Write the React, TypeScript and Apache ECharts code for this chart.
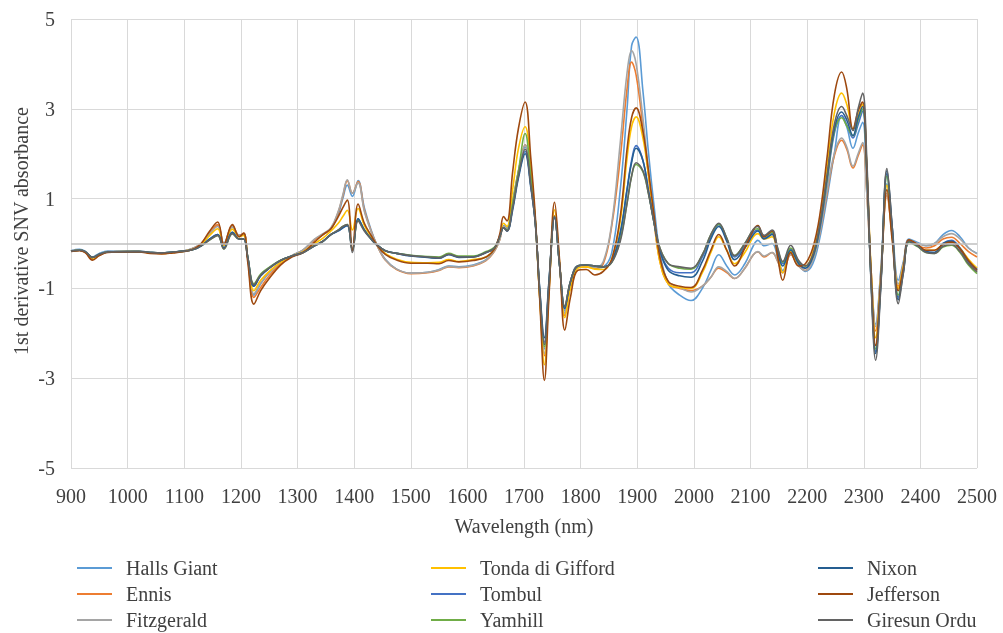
import React, { useEffect, useRef } from "react";
import * as echarts from "echarts";

const wavelengths = [
  900, 915, 925, 938, 950, 965, 1000, 1020, 1040, 1060,
  1080, 1100, 1117, 1130, 1145, 1159, 1170, 1185, 1197, 1205,
  1212, 1223, 1235, 1250, 1270, 1290, 1310, 1330, 1345, 1359,
  1372, 1380, 1388, 1397, 1407, 1418, 1430, 1440, 1455, 1475,
  1500, 1530, 1550, 1567, 1585, 1610, 1633, 1648, 1657, 1664,
  1670, 1680, 1690, 1702, 1712, 1720, 1728, 1736, 1744, 1754,
  1763, 1772, 1782, 1795, 1810, 1825, 1840, 1855, 1870, 1882,
  1890, 1898, 1910, 1920, 1930, 1940, 1955, 1975, 1995, 2015,
  2030, 2044, 2058, 2072, 2090, 2105, 2113, 2124, 2138, 2148,
  2157, 2171, 2185, 2197, 2210, 2222, 2235, 2248, 2261, 2270,
  2281, 2290, 2298, 2305, 2313, 2321, 2330, 2341, 2350, 2361,
  2370, 2380, 2395, 2410, 2425, 2440, 2455, 2470, 2485, 2500,
];

const hallsGiant = [
  -0.16, -0.13, -0.17, -0.3, -0.22, -0.17, -0.18, -0.17, -0.2, -0.21,
  -0.19, -0.16, -0.1, 0.0, 0.22, 0.4, 0.0, 0.37, 0.18, 0.22,
  -0.3, -1.15, -0.9, -0.65, -0.42, -0.27, -0.14, 0.08, 0.2, 0.33,
  0.65, 1.0, 1.3, 1.05, 1.4, 0.8, 0.3, -0.02, -0.35, -0.57,
  -0.66, -0.64, -0.58, -0.5, -0.52, -0.48, -0.36, -0.15, 0.1, 0.4,
  0.35, 0.9, 1.55, 2.15, 1.4, 0.5, -1.2, -2.35, -1.0, 0.6,
  -0.5, -1.5, -0.9, -0.5, -0.5, -0.55, -0.52, -0.2, 1.2, 3.0,
  4.4, 4.6, 3.4, 2.0, 0.8, -0.2, -0.9, -1.15, -1.27, -1.0,
  -0.6, -0.25, -0.5, -0.7, -0.45, -0.05, 0.07, -0.05, 0.0, -0.3,
  -0.6, -0.22, -0.45, -0.62, -0.45, 0.1, 1.0, 2.0, 2.85, 2.6,
  2.12, 2.45, 2.7, 1.5, -0.6, -1.8, -0.6, 1.33, 0.4, -0.82,
  -0.4, 0.1, 0.02, -0.05, 0.0, 0.2, 0.29, 0.15, -0.1, -0.22,
];

const ennis = [
  -0.17, -0.15, -0.19, -0.34, -0.26, -0.19, -0.18, -0.18, -0.21, -0.22,
  -0.2, -0.17, -0.1, 0.0, 0.24, 0.42, -0.02, 0.4, 0.18, 0.22,
  -0.32, -1.2, -0.98, -0.72, -0.45, -0.28, -0.15, 0.08, 0.2, 0.33,
  0.7, 1.05, 1.4, 1.12, 1.38, 0.75, 0.28, -0.03, -0.37, -0.58,
  -0.67, -0.65, -0.6, -0.52, -0.54, -0.5, -0.38, -0.17, 0.08, 0.38,
  0.33, 0.95, 1.6, 2.2, 1.45, 0.5, -1.25, -2.5, -1.05, 0.62,
  -0.5, -1.6, -0.95, -0.52, -0.52, -0.55, -0.45, 0.4, 1.9, 3.45,
  4.04, 3.75, 2.6, 1.5, 0.45, -0.4, -0.9, -1.0, -1.05, -0.95,
  -0.75, -0.55, -0.65, -0.78, -0.55, -0.25, -0.19, -0.3, -0.2, -0.4,
  -0.65, -0.25, -0.5, -0.6, -0.35, 0.2, 1.1, 1.95, 2.3, 2.1,
  1.68, 1.95, 2.2, 1.2, -0.6, -1.95, -0.7, 1.07, 0.2, -0.95,
  -0.45, 0.05, -0.05, -0.1, -0.05, 0.1, 0.14, 0.0, -0.18, -0.3,
];

const fitzgerald = [
  -0.16, -0.14, -0.18, -0.32, -0.25, -0.18, -0.18, -0.17, -0.2, -0.21,
  -0.19, -0.16, -0.1, 0.0, 0.22, 0.38, 0.0, 0.37, 0.18, 0.2,
  -0.3, -1.12, -0.88, -0.65, -0.42, -0.27, -0.14, 0.1, 0.22, 0.35,
  0.72, 1.08, 1.42, 1.12, 1.35, 0.72, 0.27, -0.03, -0.36, -0.57,
  -0.66, -0.64, -0.59, -0.51, -0.53, -0.49, -0.37, -0.16, 0.08, 0.38,
  0.33, 0.95, 1.6, 2.2, 1.45, 0.5, -1.2, -2.45, -1.0, 0.6,
  -0.5, -1.55, -0.92, -0.5, -0.5, -0.53, -0.4, 0.45, 2.25, 3.8,
  4.3, 4.0, 2.8, 1.6, 0.5, -0.35, -0.85, -0.98, -1.08, -0.95,
  -0.75, -0.52, -0.62, -0.78, -0.55, -0.25, -0.18, -0.28, -0.2, -0.4,
  -0.65, -0.24, -0.5, -0.6, -0.38, 0.2, 1.15, 2.0, 2.35, 2.15,
  1.72, 2.0, 2.25, 1.2, -0.65, -1.85, -0.65, 1.12, 0.25, -0.9,
  -0.45, 0.08, 0.0, -0.05, 0.0, 0.15, 0.22, 0.1, -0.1, -0.23,
];

const tondaDiGifford = [
  -0.17, -0.15, -0.19, -0.33, -0.25, -0.19, -0.18, -0.18, -0.21, -0.22,
  -0.2, -0.17, -0.12, -0.03, 0.18, 0.33, -0.05, 0.32, 0.15, 0.18,
  -0.3, -1.05, -0.82, -0.62, -0.42, -0.28, -0.18, 0.0, 0.12, 0.28,
  0.45, 0.6, 0.74, 0.3, 0.78, 0.4, 0.15, -0.03, -0.22, -0.35,
  -0.42, -0.43, -0.42, -0.36, -0.4, -0.36, -0.3, -0.12, 0.15, 0.45,
  0.38, 1.2, 2.1, 2.6, 1.7, 0.5, -1.25, -2.7, -1.1, 0.75,
  -0.45, -1.65, -1.0, -0.55, -0.52, -0.57, -0.58, -0.35, 0.5, 1.9,
  2.6, 2.82, 2.35, 1.5, 0.5, -0.4, -0.9, -0.98, -1.0, -0.65,
  -0.2, 0.15, -0.15, -0.45, -0.2, 0.15, 0.22, 0.1, 0.15, -0.25,
  -0.65, -0.18, -0.45, -0.5, -0.2, 0.5, 1.7, 2.9, 3.35, 3.1,
  2.55, 2.85, 3.1, 1.8, -0.6, -2.1, -0.8, 1.3, 0.2, -1.0,
  -0.5, 0.05, -0.05, -0.15, -0.15, -0.02, 0.05, -0.1, -0.35, -0.55,
];

const tombul = [
  -0.17, -0.15, -0.18, -0.31, -0.24, -0.19, -0.18, -0.18, -0.2, -0.21,
  -0.19, -0.17, -0.13, -0.05, 0.1, 0.2, -0.1, 0.25, 0.1, 0.1,
  -0.3, -0.95, -0.72, -0.55, -0.38, -0.28, -0.2, -0.05, 0.05, 0.2,
  0.28, 0.35, 0.4, -0.15, 0.55, 0.3, 0.1, -0.03, -0.16, -0.22,
  -0.27, -0.3, -0.32, -0.24, -0.3, -0.3, -0.2, -0.1, 0.15, 0.35,
  0.28, 0.8, 1.5, 2.05, 1.3, 0.45, -1.1, -2.2, -0.9, 0.6,
  -0.5, -1.42, -0.85, -0.5, -0.48, -0.5, -0.52, -0.4, 0.2, 1.2,
  1.85, 2.18, 1.85, 1.15, 0.45, -0.15, -0.55, -0.65, -0.65, -0.3,
  0.15, 0.42, 0.1, -0.3, -0.05, 0.25, 0.3, 0.12, 0.22, -0.15,
  -0.45, -0.12, -0.42, -0.55, -0.3, 0.3, 1.35, 2.45, 2.85, 2.65,
  2.35, 2.65, 2.95, 1.7, -0.8, -2.4, -0.9, 1.55, 0.35, -1.2,
  -0.6, 0.05, -0.05, -0.18, -0.2, 0.0, 0.07, -0.1, -0.4, -0.58,
];

const yamhill = [
  -0.17, -0.15, -0.18, -0.31, -0.24, -0.19, -0.18, -0.18, -0.2, -0.21,
  -0.19, -0.17, -0.13, -0.05, 0.08, 0.18, -0.12, 0.22, 0.1, 0.1,
  -0.3, -0.9, -0.68, -0.53, -0.37, -0.28, -0.2, -0.05, 0.05, 0.2,
  0.3, 0.38, 0.42, -0.15, 0.52, 0.3, 0.1, -0.03, -0.16, -0.22,
  -0.26, -0.29, -0.3, -0.22, -0.28, -0.28, -0.18, -0.08, 0.15, 0.35,
  0.3, 0.9, 1.6, 2.45, 1.5, 0.5, -1.15, -2.3, -0.95, 0.6,
  -0.5, -1.4, -0.85, -0.5, -0.48, -0.5, -0.52, -0.42, 0.1, 0.9,
  1.5, 1.76, 1.6, 1.1, 0.45, -0.1, -0.45, -0.55, -0.57, -0.25,
  0.2, 0.43, 0.12, -0.27, 0.0, 0.3, 0.33, 0.15, 0.25, -0.12,
  -0.42, -0.1, -0.4, -0.5, -0.3, 0.35, 1.4, 2.5, 2.8, 2.62,
  2.4, 2.75, 3.0, 1.75, -0.8, -2.35, -0.9, 1.5, 0.3, -1.15,
  -0.6, 0.03, -0.07, -0.2, -0.22, -0.08, -0.04, -0.2, -0.48, -0.67,
];

const nixon = [
  -0.17, -0.15, -0.18, -0.31, -0.24, -0.19, -0.18, -0.18, -0.2, -0.21,
  -0.19, -0.17, -0.13, -0.05, 0.1, 0.2, -0.1, 0.25, 0.1, 0.1,
  -0.3, -0.95, -0.72, -0.55, -0.38, -0.28, -0.2, -0.05, 0.05, 0.2,
  0.28, 0.35, 0.4, -0.15, 0.55, 0.3, 0.1, -0.03, -0.16, -0.22,
  -0.28, -0.31, -0.33, -0.25, -0.31, -0.3, -0.2, -0.1, 0.15, 0.35,
  0.28, 0.75, 1.45, 2.0, 1.25, 0.45, -1.05, -2.1, -0.85, 0.58,
  -0.5, -1.45, -0.85, -0.5, -0.48, -0.5, -0.52, -0.4, 0.25, 1.2,
  1.8, 2.12, 1.85, 1.15, 0.45, -0.15, -0.6, -0.72, -0.75, -0.4,
  0.1, 0.38, 0.05, -0.36, -0.1, 0.2, 0.28, 0.1, 0.2, -0.2,
  -0.5, -0.15, -0.45, -0.55, -0.3, 0.35, 1.45, 2.55, 2.93, 2.75,
  2.4, 2.8, 3.05, 1.75, -0.85, -2.45, -0.95, 1.62, 0.4, -1.25,
  -0.65, 0.05, -0.05, -0.18, -0.2, 0.0, 0.05, -0.12, -0.4, -0.58,
];

const jefferson = [
  -0.18, -0.16, -0.2, -0.37, -0.27, -0.2, -0.19, -0.19, -0.22, -0.23,
  -0.21, -0.18, -0.12, 0.0, 0.28, 0.48, -0.02, 0.42, 0.15, 0.23,
  -0.4, -1.35, -1.05, -0.78, -0.48, -0.3, -0.2, 0.03, 0.2, 0.33,
  0.6, 0.8, 0.97, -0.15, 0.88, 0.45, 0.18, -0.03, -0.24, -0.37,
  -0.44, -0.44, -0.45, -0.38, -0.41, -0.38, -0.3, -0.12, 0.2, 0.6,
  0.5, 1.6, 2.55, 3.15, 1.9, 0.6, -1.3, -3.05, -1.2, 0.92,
  -0.4, -1.93, -1.2, -0.6, -0.58, -0.7, -0.62, -0.35, 0.6, 2.1,
  2.8, 3.02, 2.5, 1.6, 0.6, -0.3, -0.85, -0.95, -0.98, -0.6,
  -0.15, 0.2, -0.15, -0.5, -0.1, 0.3, 0.4, 0.15, 0.28, -0.3,
  -0.82, -0.2, -0.5, -0.45, -0.1, 0.6, 1.9, 3.3, 3.82, 3.45,
  2.55, 2.95, 3.15, 1.8, -0.7, -2.27, -0.85, 1.2, 0.1, -1.05,
  -0.55, 0.08, -0.02, -0.15, -0.15, -0.02, 0.03, -0.12, -0.38, -0.6,
];

const giresunOrdu = [
  -0.17, -0.15, -0.18, -0.31, -0.24, -0.19, -0.18, -0.18, -0.2, -0.21,
  -0.19, -0.17, -0.13, -0.05, 0.08, 0.18, -0.12, 0.22, 0.1, 0.1,
  -0.3, -0.92, -0.7, -0.55, -0.38, -0.28, -0.2, -0.05, 0.05, 0.2,
  0.3, 0.38, 0.42, -0.2, 0.5, 0.28, 0.1, -0.03, -0.16, -0.22,
  -0.27, -0.3, -0.32, -0.24, -0.3, -0.3, -0.2, -0.1, 0.15, 0.35,
  0.28, 0.8, 1.5, 2.1, 1.3, 0.45, -1.1, -2.25, -0.9, 0.6,
  -0.5, -1.4, -0.85, -0.5, -0.48, -0.5, -0.52, -0.42, 0.05, 0.9,
  1.5, 1.8, 1.62, 1.1, 0.45, -0.1, -0.45, -0.52, -0.55, -0.25,
  0.2, 0.45, 0.12, -0.27, 0.0, 0.32, 0.38, 0.18, 0.3, -0.1,
  -0.4, -0.04, -0.38, -0.5, -0.25, 0.4, 1.5, 2.65, 3.05, 2.85,
  2.52, 3.0, 3.35, 2.0, -0.9, -2.6, -1.0, 1.67, 0.4, -1.34,
  -0.65, 0.05, -0.05, -0.2, -0.22, -0.06, -0.02, -0.18, -0.45, -0.63,
];

const seriesNames = [
  "Halls Giant", "Ennis", "Fitzgerald",
  "Tonda di Gifford", "Tombul", "Yamhill",
  "Nixon", "Jefferson", "Giresun Ordu",
];
const seriesValues = [
  hallsGiant, ennis, fitzgerald,
  tondaDiGifford, tombul, yamhill,
  nixon, jefferson, giresunOrdu,
];
const seriesColors = [
  "#5B9BD5", "#ED7D31", "#A5A5A5",
  "#FFC000", "#4472C4", "#70AD47",
  "#255E91", "#9E480E", "#636363",
];
const yTicks = [-5, -3, -1, 1, 3, 5];
const xTitle = "Wavelength (nm)";
const yTitle = "1st derivative SNV absorbance";

export default function App() {
  const ref = useRef<HTMLDivElement>(null);
  useEffect(() => {
    if (!ref.current) return;
    const chart = echarts.init(ref.current, null, { renderer: "svg" });
    const font = "'Liberation Serif', 'DejaVu Serif', serif";
    const textColor = "#404040";
    const legendBase = {
      orient: "vertical",
      top: 558,
      height: 75,
      padding: 0,
      icon: "rect",
      itemWidth: 35,
      itemHeight: 2,
      itemGap: 6,
      textStyle: {
        fontFamily: font,
        fontSize: 20,
        color: textColor,
        lineHeight: 20,
        padding: [0, 0, 0, 9],
      },
    };
    chart.setOption({
      animation: false,
      textStyle: { fontFamily: font },
      grid: { left: 71, right: 26, top: 19, bottom: 165, containLabel: false },
      xAxis: {
        type: "value",
        min: 900,
        max: 2500,
        interval: 100,
        axisLine: { show: false },
        axisTick: { show: false },
        axisLabel: {
          fontFamily: font,
          fontSize: 20,
          color: textColor,
          margin: 18,
          formatter: (v: number) => String(v),
        },
        splitLine: { show: true, lineStyle: { color: "#d9d9d9", width: 1 } },
        name: xTitle,
        nameLocation: "middle",
        nameGap: 48,
        nameTextStyle: { fontFamily: font, fontSize: 20, color: textColor },
      },
      yAxis: {
        type: "value",
        min: -5,
        max: 5,
        axisLine: { show: false },
        axisTick: { show: false, customValues: yTicks },
        axisLabel: {
          customValues: yTicks,
          fontFamily: font,
          fontSize: 20,
          color: textColor,
          margin: 16,
          formatter: (v: number) => String(v),
        },
        splitLine: { show: true, lineStyle: { color: "#d9d9d9", width: 1 } },
      },
      legend: [
        { ...legendBase, left: 77, data: seriesNames.slice(0, 3) },
        { ...legendBase, left: 431, data: seriesNames.slice(3, 6) },
        { ...legendBase, left: 818, data: seriesNames.slice(6, 9) },
      ],
      graphic: [
        {
          type: "text",
          x: 21,
          y: 231,
          rotation: Math.PI / 2,
          style: {
            text: yTitle,
            fontFamily: font,
            fontSize: 20,
            fill: textColor,
            textAlign: "center",
            textVerticalAlign: "middle",
          },
        },
      ],
      series: seriesNames.map((name, i) => ({
        name,
        type: "line",
        smooth: 0.4,
        symbol: "none",
        showSymbol: false,
        color: seriesColors[i],
        lineStyle: { color: seriesColors[i], width: 1.6 },
        data: wavelengths.map((w, j) => [w, seriesValues[i][j]]),
        markLine:
          i === 0
            ? {
                silent: true,
                symbol: ["none", "none"],
                label: { show: false },
                lineStyle: { color: "#bfbfbf", width: 1.5, type: "solid" },
                data: [{ yAxis: 0 }],
              }
            : undefined,
      })),
    });
    return () => chart.dispose();
  }, []);
  return (
    <div
      ref={ref}
      style={{ position: "fixed", left: 0, top: 0, width: 1003, height: 633 }}
    />
  );
}
